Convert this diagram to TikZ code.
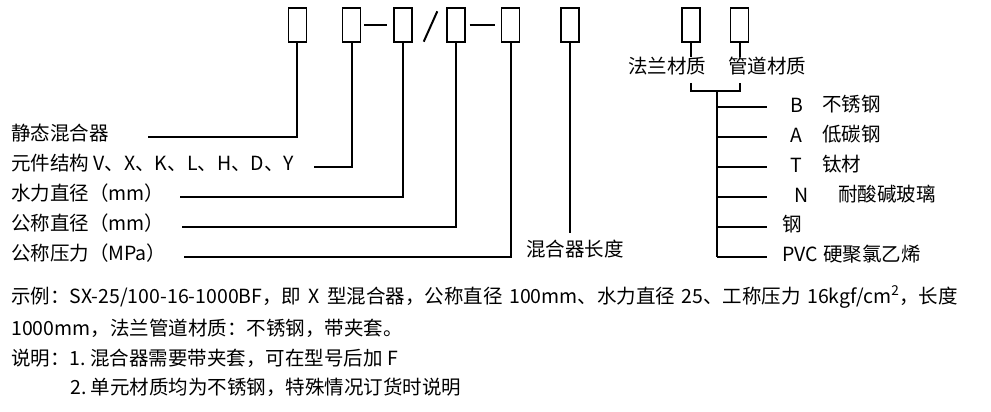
\documentclass[tikz,border=0pt]{standalone}
\usepackage{fontspec}
\setmainfont{Noto Sans CJK SC}
\begin{document}
\begin{tikzpicture}[x=1pt,y=-1pt,
    box/.style={draw,line width=1.4pt,minimum width=18pt,minimum height=34pt,inner sep=0},
    lead/.style={line width=2pt},
    txt/.style={anchor=west,inner sep=0,font=\fontsize{19.5}{22}\selectfont}]
  \useasboundingbox (0,0) rectangle (991,412);
  % model code boxes
  \node[box] (b1) at (297.3,25) {};
  \node[box] (b2) at (351.7,25) {};
  \node[box] (b3) at (403,25) {};
  \node[box] (b4) at (456,25) {};
  \node[box] (b5) at (510.5,25) {};
  \node[box] (b6) at (570,25) {};
  \node[box] (b7) at (691,25) {};
  \node[box] (b8) at (739.5,25) {};
  \draw[lead] ([xshift=3pt]b2.east) -- ([xshift=-6pt]b3.west);
  \draw[lead] ([shift={(11,-1)}]b3.south east) -- ([shift={(-9,4)}]b4.north west);
  \draw[lead] ([xshift=4pt]b4.east) -- ([xshift=-6pt]b5.west);

  % left labels
  \node[txt] (t1) at (11,133) {静态混合器};
  \node[txt] (t2) at (11,163) {元件结构 V、X、K、L、H、D、Y};
  \node[txt] (t3) at (11,193) {水力直径（mm）};
  \node[txt] (t4) at (11,223) {公称直径（mm）};
  \node[txt] (t5) at (11,253) {公称压力（MPa）};
  \node[txt] (t6) at (526,249) {混合器长度};
  \coordinate (e1) at (148,137.3);
  \coordinate (e2) at (314,167.3);
  \coordinate (e3) at (180,197.3);
  \coordinate (e4) at (182,227.3);
  \coordinate (e5) at (184,256.7);
  \coordinate (e6) at (570,233.3);
  \draw[lead] (b1.south) |- (e1);
  \draw[lead] (b2.south) |- (e2);
  \draw[lead] (b3.south) |- (e3);
  \draw[lead] (b4.south) |- (e4);
  \draw[lead] (b5.south) |- (e5);
  \draw[lead] (b6.south) -- (e6);

  % materials
  \node[txt] (t7) at (628,66) {法兰材质};
  \node[txt] (t8) at (728,66) {管道材质};
  \draw[lead] (b7.south) -- (b7.south |- t7.north);
  \draw[lead] (b8.south) -- (b8.south |- t8.north);
  \coordinate (k) at (717,83);
  \coordinate (m) at (717,90.7);
  \coordinate (s) at (717,256.7);
  \draw[lead] (b7 |- k) |- (m) -| (b8 |- k);
  \draw[lead] (m) -- (s);
  \foreach \y [count=\i] in {106.7,137.3,167.3,197.3,226.7,256.7}{
    \coordinate (r\i) at (767,\y);
    \draw[lead] (m |- r\i) -- (r\i);
  }
  \node[txt,anchor=center] (c1) at (796.7,105) {B};
  \node[txt] (m1) at (822,104) {不锈钢};
  \node[txt,anchor=center] (c2) at (796.7,135) {A};
  \node[txt] (m2) at (822,134) {低碳钢};
  \node[txt,anchor=center] (c3) at (796.7,165) {T};
  \node[txt] (m3) at (822,164) {钛材};
  \node[txt,anchor=center] (c4) at (801.7,195) {N};
  \node[txt] (m4) at (838,194) {耐酸碱玻璃};
  \node[txt] (m5) at (782,224) {钢};
  \node[txt] (c6) at (782,254) {PVC};
  \node[txt] (m6) at (823,254) {硬聚氯乙烯};

  % notes
  \node[txt] (x1) at (11,297) {示例：SX-25/100-16-1000BF，即\hspace{3pt} X\hspace{3pt} 型混合器，公称直径\hspace{2pt} 100mm、水力直径\hspace{2pt} 25、工称压力\hspace{2pt} 16kgf/cm\textsuperscript{2}，长度};
  \node[txt] (x2) at (11,328) {1000mm，法兰管道材质：不锈钢，带夹套。};
  \node[txt] (x3) at (11,358) {说明：1.~混合器需要带夹套，可在型号后加 F};
  \node[txt] (x4) at (70,387) {2.~单元材质均为不锈钢，特殊情况订货时说明};
\end{tikzpicture}
\end{document}
